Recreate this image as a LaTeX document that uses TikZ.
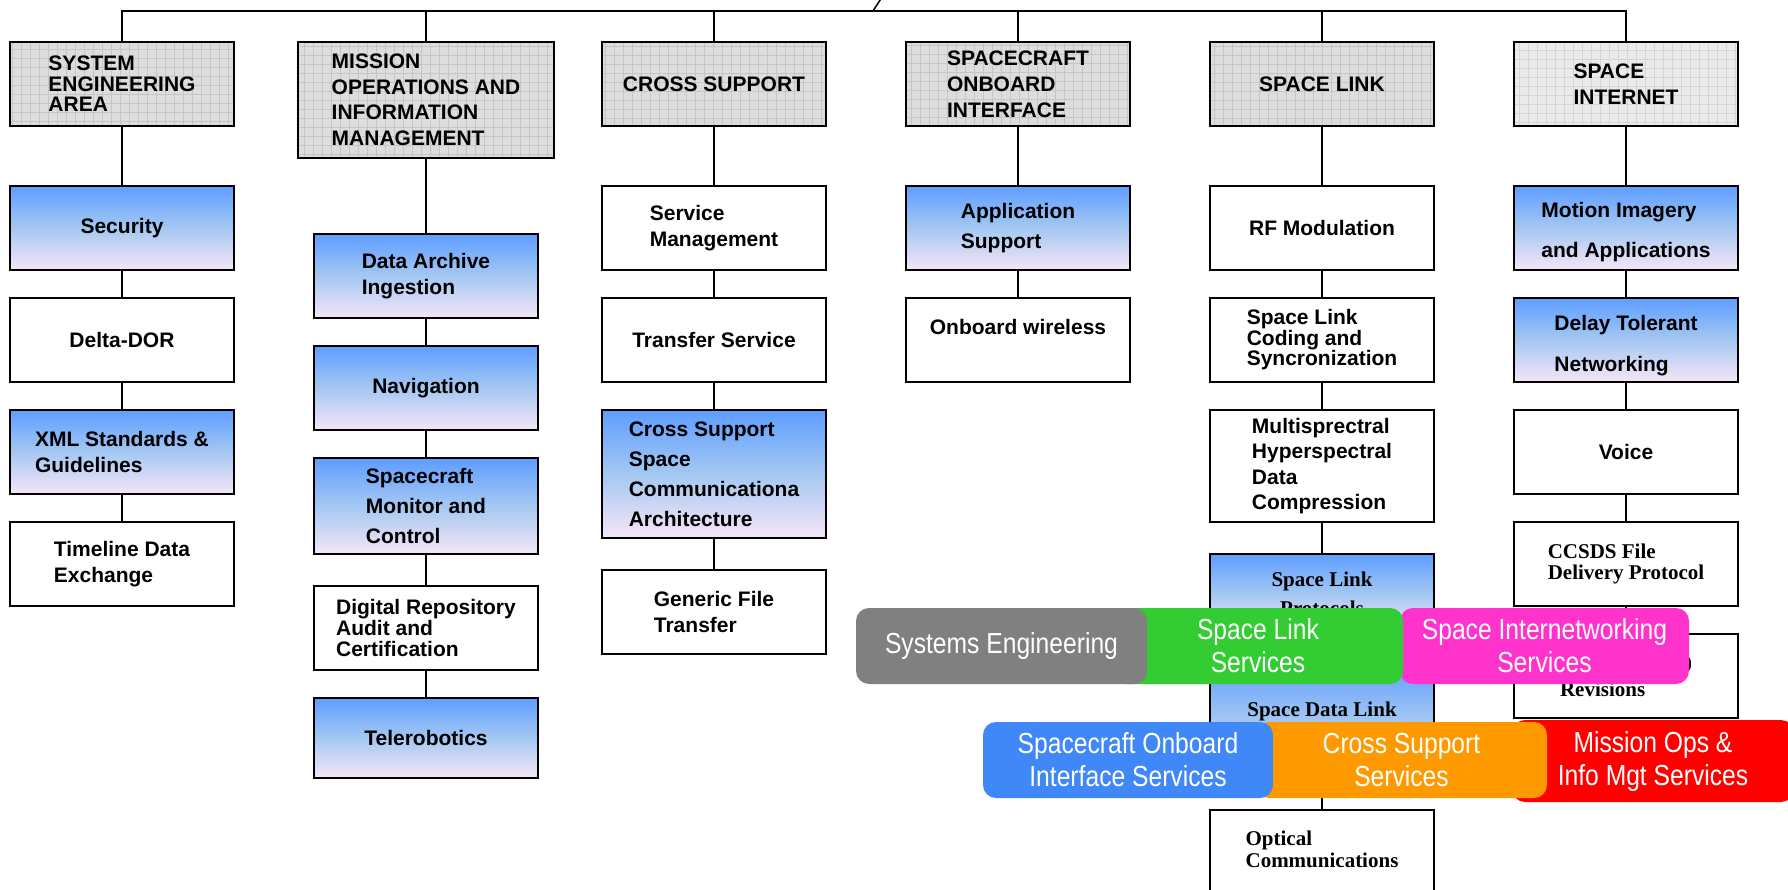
\documentclass[tikz,border=0pt]{standalone}
\usepackage{fontspec}
\setmainfont{Liberation Sans}
\newfontfamily\timesfam{Liberation Serif}
\newfontfamily\narrowfam[FakeStretch=0.85]{Liberation Sans}
\newcommand\boxfont[1]{\fontsize{21}{#1}\selectfont\bfseries}
\newcommand\serfont[1]{\timesfam\fontsize{21}{#1}\selectfont\bfseries}
\newcommand\pillfont{\narrowfam\fontsize{29}{33}\selectfont}

\definecolor{hdrfill}{HTML}{DDDDDD}
\definecolor{hdrgrid}{HTML}{C6C6C6}
\definecolor{hdrfilllight}{HTML}{EAEAEA}
\definecolor{hdrgridlight}{HTML}{D5D5D5}
\definecolor{bluetop}{HTML}{5E9DFF}
\definecolor{bluemid}{HTML}{A4C8F2}
\definecolor{bluebot}{HTML}{F6E6F6}
\definecolor{pgray}{HTML}{808080}
\definecolor{pgreen}{HTML}{33CC33}
\definecolor{ppink}{HTML}{FF33CC}
\definecolor{pblue}{HTML}{4088F8}
\definecolor{porange}{HTML}{FF9900}
\definecolor{pred}{HTML}{FF0000}

\tikzset{
  box/.style={draw=black, line width=2pt, minimum width=224pt, minimum height=84pt,
    inner sep=0pt, align=left, font=\boxfont{26}},
  hdr/.style={box, fill=hdrfill,
    path picture={\draw[hdrgrid, line width=0.6pt]
      (path picture bounding box.south west) grid[step=9pt] (path picture bounding box.north east);}},
  hdrlight/.style={box, fill=hdrfilllight,
    path picture={\draw[hdrgridlight, line width=0.6pt]
      (path picture bounding box.south west) grid[step=9pt] (path picture bounding box.north east);}},
  bluebox/.style={box, top color=bluetop, bottom color=bluebot, middle color=bluemid},
  plain/.style={box, fill=white},
  lead/.style={font=\boxfont{#1}},
  slead/.style={font=\serfont{#1}},
  wire/.style={line width=2.8pt, draw=black},
  pill/.style={rounded corners=13pt, minimum height=76pt, inner sep=0pt,
    text=white, align=center, font=\pillfont},
}

\begin{document}
\begin{tikzpicture}[x=1pt, y=-1pt]
\useasboundingbox (0,0) rectangle (1788,890);
\fill[white] (0,0) rectangle (1788,890);

% ---- column 1: system engineering
\node[hdr, lead=20.5] (h1) at (122,84) {SYSTEM\\ENGINEERING\\AREA};
\node[bluebox] (a1) at (122,228) {Security};
\node[plain] (a2) at (122,340) {Delta-DOR};
\node[bluebox] (a3) at (122,452) {XML Standards \&\\Guidelines};
\node[plain] (a4) at (122,564) {Timeline Data\\Exchange};

% ---- column 2: mission operations
\node[hdr, minimum width=256pt, minimum height=116pt, lead=25.5] (h2) at (426,100)
  {MISSION\\OPERATIONS AND\\INFORMATION\\MANAGEMENT};
\node[bluebox] (b1) at (426,276) {Data Archive\\Ingestion};
\node[bluebox] (b2) at (426,388) {Navigation};
\node[bluebox, minimum height=96pt, lead=30] (b3) at (426,506) {Spacecraft\\Monitor and\\Control};
\node[plain, lead=21] (b4) at (426,628) {Digital Repository\\Audit and\\Certification};
\node[bluebox, minimum height=80pt] (b5) at (426,738) {Telerobotics};

% ---- column 3: cross support
\node[hdr] (h3) at (714,84) {CROSS SUPPORT};
\node[plain] (c1) at (714,228) {Service\\Management};
\node[plain] (c2) at (714,340) {Transfer Service};
\node[bluebox, minimum height=128pt, lead=30] (c3) at (714,474)
  {Cross Support\\Space\\Communicationa\\Architecture};
\node[plain] (c4) at (714,612) {Generic File\\Transfer};

% ---- column 4: spacecraft onboard interface
\node[hdr] (h4) at (1018,84) {SPACECRAFT\\ONBOARD\\INTERFACE};
\node[bluebox, lead=30] (d1) at (1018,228) {Application\\Support};
\node[plain] (d2) at (1018,340) {Onboard wireless\\\mbox{}};

% ---- column 5: space link
\node[hdr] (h5) at (1322,84) {SPACE LINK};
\node[plain] (e1) at (1322,228) {RF Modulation};
\node[plain, lead=20.5] (e2) at (1322,340) {Space Link\\Coding and\\Syncronization};
\node[plain, minimum height=112pt, lead=25.5] (e3) at (1322,466)
  {Multisprectral\\Hyperspectral\\Data\\Compression};
\node[bluebox, minimum height=80pt, slead=29, align=center] (e4) at (1322,594) {Space Link\\Protocols};
\node[bluebox, minimum height=120pt, slead=25, align=center] (e5) at (1322,722) {Space Data Link\\Protocols};
\node[plain, minimum height=100pt, slead=22] (e6) at (1322,860) {Optical\\Communications\\\mbox{}};

% ---- column 6: space internet
\node[hdrlight] (h6) at (1626,84) {SPACE\\INTERNET};
\node[bluebox, lead=40] (f1) at (1626,228) {\rule{0pt}{23pt}Motion Imagery\\and Applications};
\node[bluebox, lead=41] (f2) at (1626,340) {\rule{0pt}{27pt}Delay Tolerant\\Networking};
\node[plain] (f3) at (1626,452) {Voice};
\node[plain, slead=21] (f4) at (1626,564) {CCSDS File\\Delivery Protocol};
\node[plain, slead=27] (f5) at (1626,676) {Protocol (SPP)\\Revisions};

% ---- top bus
\coordinate (root) at (873,11);
\coordinate (rootup) at (884,-6);
\draw[wire] (h1.north) |- (root);
\draw[wire] (h6.north) |- (root);
\foreach \h in {h2,h3,h4,h5} \draw[wire] (\h.north) -- (\h.north |- root);
\draw[line width=1.5pt] (root) -- (rootup);

% ---- column links
\foreach \u/\v in {h1/a1,a1/a2,a2/a3,a3/a4,
                   h2/b1,b1/b2,b2/b3,b3/b4,b4/b5,
                   h3/c1,c1/c2,c2/c3,c3/c4,
                   h4/d1,d1/d2,
                   h5/e1,e1/e2,e2/e3,e3/e4,e4/e5,e5/e6,
                   h6/f1,f1/f2,f2/f3,f3/f4,f4/f5}
  \draw[wire] (\u.south) -- (\v.north);

% ---- service area banners
\node[pill, fill=ppink, minimum width=289pt] (sis) at (1544.5,646) {Space Internetworking\\Services};
\node[pill, fill=pgreen, minimum width=290pt] (sls) at (1258,646) {Space Link\\Services};
\node[pill, fill=pgray, minimum width=291pt] (se) at (1001.5,646) {Systems Engineering};
\node[pill, fill=pred, minimum width=282pt, minimum height=82pt] (moims) at (1653,761) {Mission Ops \&\\Info Mgt Services};
\node[pill, fill=porange, minimum width=291pt] (css) at (1401.5,760) {Cross Support\\Services};
\node[pill, fill=pblue, minimum width=290pt] (sois) at (1128,760) {Spacecraft Onboard\\Interface Services};
\end{tikzpicture}
\end{document}
